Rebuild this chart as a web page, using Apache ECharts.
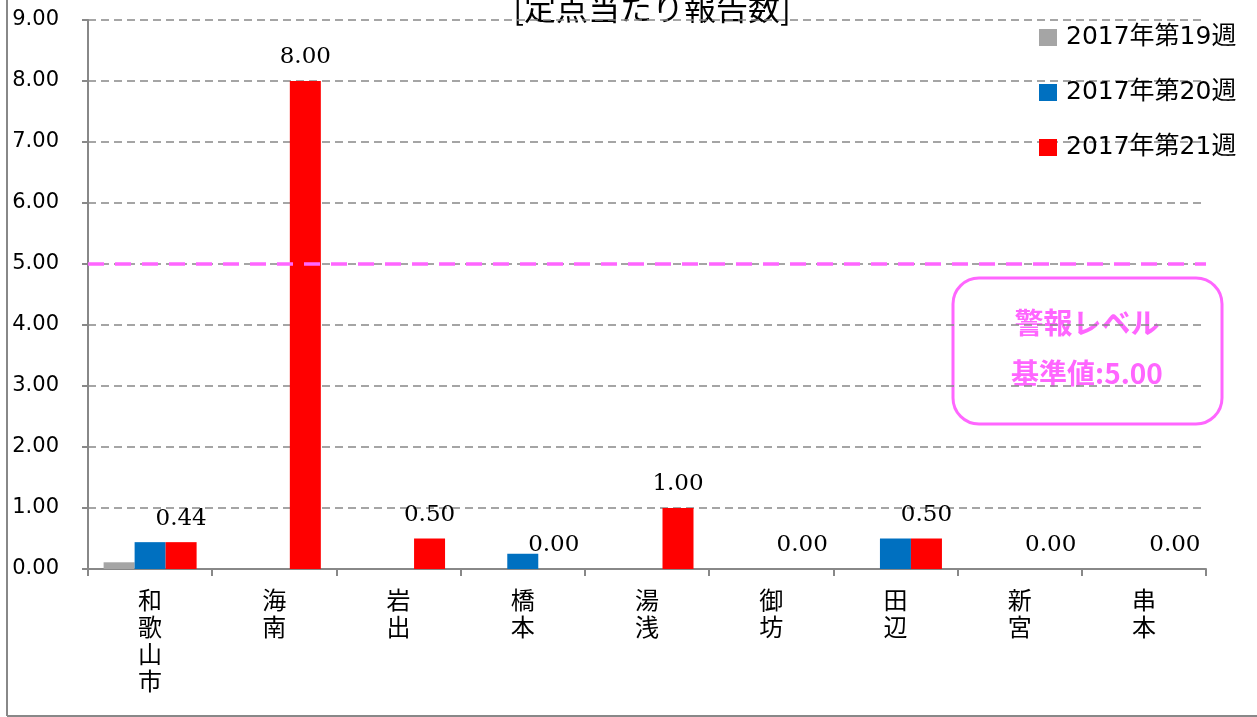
<!DOCTYPE html>
<html><head><meta charset="utf-8">
<script src="https://cdn.jsdelivr.net/npm/echarts@6/dist/echarts.min.js"></script>
<style>html,body{margin:0;padding:0;background:#fff}#c{width:1257px;height:717px}</style>
</head><body><div id="c"></div>
<script>
const categories = ['和歌山市','海南','岩出','橋本','湯浅','御坊','田辺','新宮','串本'];
const seriesNames = ['2017年第19週','2017年第20週','2017年第21週'];
const week19 = [0.11,0,0,0,0,0,0,0,0];
const week20 = [0.44,0,0,0.25,0,0,0.50,0,0];
const week21 = [0.44,8.00,0.50,0.00,1.00,0.00,0.50,0.00,0.00];
const yTicks = [0,1,2,3,4,5,6,7,8,9];
const alertLevel = 5.00;
const colors = ['#A5A5A5','#0070C0','#FF0000'];

const chart = echarts.init(document.getElementById('c'));
const cjk = "'DejaVu Sans','Noto Sans CJK JP',sans-serif";
const barBase = {type:'bar', barWidth:31, barGap:'0%', barCategoryGap:'25%'};
chart.setOption({
  animation:false,
  grid:{left:88,right:51,top:20,bottom:148},
  legend:{
    orient:'vertical', left:1039, top:25, padding:0, itemWidth:18, itemHeight:17, itemGap:30,
    icon:'rect',
    textStyle:{fontSize:25, fontFamily:cjk, color:'#000', padding:[0,0,0,4]},
    data:seriesNames
  },
  xAxis:{
    type:'category', data:categories,
    axisLine:{lineStyle:{color:'#888',width:2}},
    axisTick:{show:true, length:7, lineStyle:{color:'#888',width:2}},
    axisLabel:{
      margin:17, color:'#000', fontSize:24, lineHeight:27,
      fontFamily:"'Noto Sans CJK JP',sans-serif",
      formatter: v => v.split('').join('\n')
    }
  },
  yAxis:{
    type:'value', min:0, max:9, interval:1,
    axisLine:{show:true, lineStyle:{color:'#888',width:2}},
    axisTick:{show:true, inside:false, length:6, lineStyle:{color:'#888',width:2}},
    splitLine:{show:true, lineStyle:{color:'#888',type:[8,5],width:1.5}},
    axisLabel:{margin:29, color:'#000', fontSize:21, fontFamily:"'DejaVu Sans',sans-serif",
      formatter: v => yTicks.includes(v) ? v.toFixed(2) : ''}
  },
  series:[
    Object.assign({}, barBase, {name:seriesNames[0], data:week19, itemStyle:{color:colors[0]}}),
    Object.assign({}, barBase, {name:seriesNames[1], data:week20, itemStyle:{color:colors[1]}}),
    Object.assign({}, barBase, {name:seriesNames[2], data:week21, itemStyle:{color:colors[2]},
      label:{show:true, position:'top', distance:12, color:'#000', fontSize:23,
        fontFamily:"'DejaVu Serif','Liberation Serif',serif",
        formatter: p => p.value.toFixed(2)},
      markLine:{symbol:'none', silent:true, label:{show:false}, z:10,
        lineStyle:{color:'#FF66FF', width:3.5, type:[16,11], opacity:1},
        data:[{yAxis:alertLevel}]}
    })
  ],
  graphic:[
    {type:'line', shape:{x1:7,y1:0,x2:7,y2:716}, style:{stroke:'#888',lineWidth:2}},
    {type:'line', shape:{x1:7,y1:716,x2:1257,y2:716}, style:{stroke:'#888',lineWidth:2}},
    {type:'text', x:652, y:-8, style:{text:'[定点当たり報告数]', fill:'#000', fontSize:32,
      fontFamily:"'Noto Sans CJK JP',sans-serif", textAlign:'center', textVerticalAlign:'top'}},
    {type:'rect', shape:{x:953,y:278,width:269,height:146,r:26}, style:{fill:'none',stroke:'#FF66FF',lineWidth:3}},
    {type:'text', x:1087, y:323, style:{text:'警報レベル', fill:'#FF66FF', fontSize:29, fontWeight:'bold',
      fontFamily:"'Noto Sans CJK JP',sans-serif", textAlign:'center', textVerticalAlign:'middle'}},
    {type:'text', x:1087, y:373, style:{text:'基準値:' + alertLevel.toFixed(2), fill:'#FF66FF', fontSize:28, fontWeight:'bold',
      fontFamily:"'Noto Sans CJK JP',sans-serif", textAlign:'center', textVerticalAlign:'middle'}}
  ]
});
</script></body></html>
